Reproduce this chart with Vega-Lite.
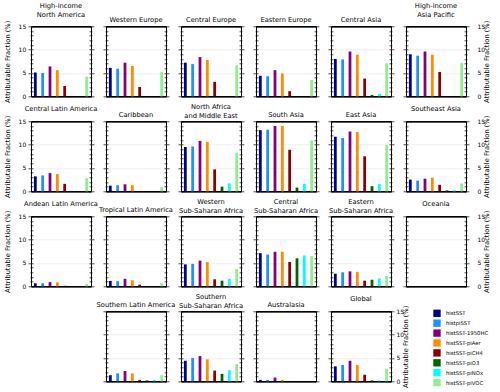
{
"$schema":"https://vega.github.io/schema/vega-lite/v6.json",
"autosize":{"type":"pad"},
"padding":{"left":3,"top":2.3,"right":0,"bottom":0},
"data":{"values":[
{"r":"HINA","s":"histSST","v":5.1},{"r":"HINA","s":"histpiSST","v":5.0},{"r":"HINA","s":"histSST-1950HC","v":6.4},{"r":"HINA","s":"histSST-piAer","v":5.6},{"r":"HINA","s":"histSST-piCH4","v":2.2},{"r":"HINA","s":"histSST-piO3","v":0},{"r":"HINA","s":"histSST-piNOx","v":0},{"r":"HINA","s":"histSST-piVOC","v":4.2},
{"r":"WEU","s":"histSST","v":6.1},{"r":"WEU","s":"histpiSST","v":5.9},{"r":"WEU","s":"histSST-1950HC","v":7.2},{"r":"WEU","s":"histSST-piAer","v":6.5},{"r":"WEU","s":"histSST-piCH4","v":2.0},{"r":"WEU","s":"histSST-piO3","v":0},{"r":"WEU","s":"histSST-piNOx","v":0},{"r":"WEU","s":"histSST-piVOC","v":5.2},
{"r":"CEU","s":"histSST","v":7.2},{"r":"CEU","s":"histpiSST","v":6.9},{"r":"CEU","s":"histSST-1950HC","v":8.4},{"r":"CEU","s":"histSST-piAer","v":7.8},{"r":"CEU","s":"histSST-piCH4","v":3.1},{"r":"CEU","s":"histSST-piO3","v":0},{"r":"CEU","s":"histSST-piNOx","v":0},{"r":"CEU","s":"histSST-piVOC","v":6.6},
{"r":"EEU","s":"histSST","v":4.4},{"r":"EEU","s":"histpiSST","v":4.3},{"r":"EEU","s":"histSST-1950HC","v":5.6},{"r":"EEU","s":"histSST-piAer","v":4.9},{"r":"EEU","s":"histSST-piCH4","v":1.1},{"r":"EEU","s":"histSST-piO3","v":0},{"r":"EEU","s":"histSST-piNOx","v":0},{"r":"EEU","s":"histSST-piVOC","v":3.5},
{"r":"CAS","s":"histSST","v":8.0},{"r":"CAS","s":"histpiSST","v":7.9},{"r":"CAS","s":"histSST-1950HC","v":9.6},{"r":"CAS","s":"histSST-piAer","v":8.9},{"r":"CAS","s":"histSST-piCH4","v":3.8},{"r":"CAS","s":"histSST-piO3","v":0.3},{"r":"CAS","s":"histSST-piNOx","v":0.5},{"r":"CAS","s":"histSST-piVOC","v":7.1},
{"r":"HIAP","s":"histSST","v":9.0},{"r":"HIAP","s":"histpiSST","v":8.7},{"r":"HIAP","s":"histSST-1950HC","v":9.6},{"r":"HIAP","s":"histSST-piAer","v":8.9},{"r":"HIAP","s":"histSST-piCH4","v":5.2},{"r":"HIAP","s":"histSST-piO3","v":0},{"r":"HIAP","s":"histSST-piNOx","v":0},{"r":"HIAP","s":"histSST-piVOC","v":7.1},
{"r":"CLA","s":"histSST","v":3.2},{"r":"CLA","s":"histpiSST","v":3.4},{"r":"CLA","s":"histSST-1950HC","v":3.9},{"r":"CLA","s":"histSST-piAer","v":3.7},{"r":"CLA","s":"histSST-piCH4","v":1.6},{"r":"CLA","s":"histSST-piO3","v":0},{"r":"CLA","s":"histSST-piNOx","v":0},{"r":"CLA","s":"histSST-piVOC","v":2.8},
{"r":"CAR","s":"histSST","v":1.2},{"r":"CAR","s":"histpiSST","v":1.3},{"r":"CAR","s":"histSST-1950HC","v":1.5},{"r":"CAR","s":"histSST-piAer","v":1.3},{"r":"CAR","s":"histSST-piCH4","v":0},{"r":"CAR","s":"histSST-piO3","v":0},{"r":"CAR","s":"histSST-piNOx","v":0},{"r":"CAR","s":"histSST-piVOC","v":0.9},
{"r":"NAME","s":"histSST","v":9.5},{"r":"NAME","s":"histpiSST","v":9.6},{"r":"NAME","s":"histSST-1950HC","v":10.8},{"r":"NAME","s":"histSST-piAer","v":10.6},{"r":"NAME","s":"histSST-piCH4","v":4.7},{"r":"NAME","s":"histSST-piO3","v":1.0},{"r":"NAME","s":"histSST-piNOx","v":1.7},{"r":"NAME","s":"histSST-piVOC","v":8.3},
{"r":"SAS","s":"histSST","v":13.1},{"r":"SAS","s":"histpiSST","v":13.2},{"r":"SAS","s":"histSST-1950HC","v":14.0},{"r":"SAS","s":"histSST-piAer","v":14.0},{"r":"SAS","s":"histSST-piCH4","v":8.9},{"r":"SAS","s":"histSST-piO3","v":0.8},{"r":"SAS","s":"histSST-piNOx","v":1.6},{"r":"SAS","s":"histSST-piVOC","v":10.9},
{"r":"EAS","s":"histSST","v":11.7},{"r":"EAS","s":"histpiSST","v":11.4},{"r":"EAS","s":"histSST-1950HC","v":12.8},{"r":"EAS","s":"histSST-piAer","v":12.7},{"r":"EAS","s":"histSST-piCH4","v":7.5},{"r":"EAS","s":"histSST-piO3","v":1.1},{"r":"EAS","s":"histSST-piNOx","v":1.6},{"r":"EAS","s":"histSST-piVOC","v":9.9},
{"r":"SEA","s":"histSST","v":2.5},{"r":"SEA","s":"histpiSST","v":2.3},{"r":"SEA","s":"histSST-1950HC","v":2.7},{"r":"SEA","s":"histSST-piAer","v":2.9},{"r":"SEA","s":"histSST-piCH4","v":1.4},{"r":"SEA","s":"histSST-piO3","v":0.2},{"r":"SEA","s":"histSST-piNOx","v":0.2},{"r":"SEA","s":"histSST-piVOC","v":1.7},
{"r":"ALA","s":"histSST","v":0.65},{"r":"ALA","s":"histpiSST","v":0.65},{"r":"ALA","s":"histSST-1950HC","v":0.9},{"r":"ALA","s":"histSST-piAer","v":0.85},{"r":"ALA","s":"histSST-piCH4","v":0.1},{"r":"ALA","s":"histSST-piO3","v":0},{"r":"ALA","s":"histSST-piNOx","v":0},{"r":"ALA","s":"histSST-piVOC","v":0.45},
{"r":"TLA","s":"histSST","v":1.15},{"r":"TLA","s":"histpiSST","v":1.1},{"r":"TLA","s":"histSST-1950HC","v":1.6},{"r":"TLA","s":"histSST-piAer","v":1.3},{"r":"TLA","s":"histSST-piCH4","v":0.35},{"r":"TLA","s":"histSST-piO3","v":0},{"r":"TLA","s":"histSST-piNOx","v":0},{"r":"TLA","s":"histSST-piVOC","v":0.7},
{"r":"WSSA","s":"histSST","v":4.7},{"r":"WSSA","s":"histpiSST","v":4.8},{"r":"WSSA","s":"histSST-1950HC","v":5.5},{"r":"WSSA","s":"histSST-piAer","v":5.2},{"r":"WSSA","s":"histSST-piCH4","v":1.5},{"r":"WSSA","s":"histSST-piO3","v":1.2},{"r":"WSSA","s":"histSST-piNOx","v":1.6},{"r":"WSSA","s":"histSST-piVOC","v":3.7},
{"r":"CSSA","s":"histSST","v":7.1},{"r":"CSSA","s":"histpiSST","v":6.8},{"r":"CSSA","s":"histSST-1950HC","v":7.4},{"r":"CSSA","s":"histSST-piAer","v":7.4},{"r":"CSSA","s":"histSST-piCH4","v":5.2},{"r":"CSSA","s":"histSST-piO3","v":6.0},{"r":"CSSA","s":"histSST-piNOx","v":6.6},{"r":"CSSA","s":"histSST-piVOC","v":6.5},
{"r":"ESSA","s":"histSST","v":2.7},{"r":"ESSA","s":"histpiSST","v":3.0},{"r":"ESSA","s":"histSST-1950HC","v":3.2},{"r":"ESSA","s":"histSST-piAer","v":3.1},{"r":"ESSA","s":"histSST-piCH4","v":1.2},{"r":"ESSA","s":"histSST-piO3","v":1.4},{"r":"ESSA","s":"histSST-piNOx","v":1.65},{"r":"ESSA","s":"histSST-piVOC","v":2.2},
{"r":"OCE","s":"histSST","v":0},{"r":"OCE","s":"histpiSST","v":0},{"r":"OCE","s":"histSST-1950HC","v":0},{"r":"OCE","s":"histSST-piAer","v":0},{"r":"OCE","s":"histSST-piCH4","v":0},{"r":"OCE","s":"histSST-piO3","v":0},{"r":"OCE","s":"histSST-piNOx","v":0},{"r":"OCE","s":"histSST-piVOC","v":0},
{"r":"SLA","s":"histSST","v":1.3},{"r":"SLA","s":"histpiSST","v":1.7},{"r":"SLA","s":"histSST-1950HC","v":2.2},{"r":"SLA","s":"histSST-piAer","v":1.7},{"r":"SLA","s":"histSST-piCH4","v":0.3},{"r":"SLA","s":"histSST-piO3","v":0.2},{"r":"SLA","s":"histSST-piNOx","v":0.3},{"r":"SLA","s":"histSST-piVOC","v":1.3},
{"r":"SSSA","s":"histSST","v":4.4},{"r":"SSSA","s":"histpiSST","v":5.0},{"r":"SSSA","s":"histSST-1950HC","v":5.4},{"r":"SSSA","s":"histSST-piAer","v":4.7},{"r":"SSSA","s":"histSST-piCH4","v":2.3},{"r":"SSSA","s":"histSST-piO3","v":1.6},{"r":"SSSA","s":"histSST-piNOx","v":2.4},{"r":"SSSA","s":"histSST-piVOC","v":3.7},
{"r":"AUS","s":"histSST","v":0.3},{"r":"AUS","s":"histpiSST","v":0.3},{"r":"AUS","s":"histSST-1950HC","v":0.8},{"r":"AUS","s":"histSST-piAer","v":0.3},{"r":"AUS","s":"histSST-piCH4","v":0},{"r":"AUS","s":"histSST-piO3","v":0},{"r":"AUS","s":"histSST-piNOx","v":0},{"r":"AUS","s":"histSST-piVOC","v":0},
{"r":"GLB","s":"histSST","v":3.2},{"r":"GLB","s":"histpiSST","v":3.5},{"r":"GLB","s":"histSST-1950HC","v":4.4},{"r":"GLB","s":"histSST-piAer","v":3.5},{"r":"GLB","s":"histSST-piCH4","v":1.4},{"r":"GLB","s":"histSST-piO3","v":0.2},{"r":"GLB","s":"histSST-piNOx","v":0.2},{"r":"GLB","s":"histSST-piVOC","v":2.7}
]},
"columns":6,
"spacing":{"row":25,"column":15},
"bounds":"flush",
"resolve":{"scale":{"color":"independent"},"legend":{"color":"independent"}},
"concat":[
{"width":60,"height":70,"title":{"text":["High-income","North America"],"offset":1.5},"transform":[{"filter":"datum.r==='HINA'"}],"layer":[
{"mark":"bar","encoding":{"x":{"field":"s","type":"nominal","scale":{"domain":["histSST","histpiSST","histSST-1950HC","histSST-piAer","histSST-piCH4","histSST-piO3","histSST-piNOx","histSST-piVOC"],"paddingInner":0.62,"paddingOuter":0.4},"axis":{"orient":"bottom","title":null}},"y":{"field":"v","type":"quantitative","scale":{"domain":[0,15],"nice":false},"axis":{"orient":"left","values":[0,1,2,3,4,5,6,7,8,9,10,11,12,13,14,15],"offset":-2,"tickSize":{"condition":{"test":"datum.value%5===0","value":5},"value":3},"labelExpr":"datum.value%5===0?datum.label:''","labelOverlap":false,"labelPadding":2.3,"grid":true,"gridOpacity":{"condition":{"test":"datum.value===5||datum.value===10","value":1},"value":0},"title":"Attributable Fraction (%)","titlePadding":8}},"color":{"field":"s","type":"nominal","scale":{"domain":["histSST","histpiSST","histSST-1950HC","histSST-piAer","histSST-piCH4","histSST-piO3","histSST-piNOx","histSST-piVOC"],"range":["#00008B","#1E90FF","#800080","#FF8C00","#8B0000","#006400","#00FFFF","#90EE90"]},"legend":null}}},
{"mark":{"type":"bar","opacity":0},"encoding":{"x":{"field":"s","type":"nominal","scale":{"domain":["histSST","histpiSST","histSST-1950HC","histSST-piAer","histSST-piCH4","histSST-piO3","histSST-piNOx","histSST-piVOC"],"paddingInner":0.62,"paddingOuter":0.4},"axis":{"orient":"top","title":null}},"y":{"field":"v","type":"quantitative","scale":{"domain":[0,15],"nice":false},"axis":{"orient":"right","values":[0,1,2,3,4,5,6,7,8,9,10,11,12,13,14,15],"offset":-2,"tickSize":{"condition":{"test":"datum.value%5===0","value":5},"value":3},"labels":false,"grid":false,"title":null}}}}
],"resolve":{"axis":{"x":"independent","y":"independent"}}},
{"width":60,"height":70,"title":"Western Europe","transform":[{"filter":"datum.r==='WEU'"}],"layer":[
{"mark":"bar","encoding":{"x":{"field":"s","type":"nominal","scale":{"domain":["histSST","histpiSST","histSST-1950HC","histSST-piAer","histSST-piCH4","histSST-piO3","histSST-piNOx","histSST-piVOC"],"paddingInner":0.62,"paddingOuter":0.4},"axis":{"orient":"bottom","title":null}},"y":{"field":"v","type":"quantitative","scale":{"domain":[0,15],"nice":false},"axis":{"orient":"left","values":[0,1,2,3,4,5,6,7,8,9,10,11,12,13,14,15],"offset":-2,"tickSize":{"condition":{"test":"datum.value%5===0","value":5},"value":3},"labels":false,"grid":true,"gridOpacity":{"condition":{"test":"datum.value===5||datum.value===10","value":1},"value":0},"title":null}},"color":{"field":"s","type":"nominal","scale":{"domain":["histSST","histpiSST","histSST-1950HC","histSST-piAer","histSST-piCH4","histSST-piO3","histSST-piNOx","histSST-piVOC"],"range":["#00008B","#1E90FF","#800080","#FF8C00","#8B0000","#006400","#00FFFF","#90EE90"]},"legend":null}}},
{"mark":{"type":"bar","opacity":0},"encoding":{"x":{"field":"s","type":"nominal","scale":{"domain":["histSST","histpiSST","histSST-1950HC","histSST-piAer","histSST-piCH4","histSST-piO3","histSST-piNOx","histSST-piVOC"],"paddingInner":0.62,"paddingOuter":0.4},"axis":{"orient":"top","title":null}},"y":{"field":"v","type":"quantitative","scale":{"domain":[0,15],"nice":false},"axis":{"orient":"right","values":[0,1,2,3,4,5,6,7,8,9,10,11,12,13,14,15],"offset":-2,"tickSize":{"condition":{"test":"datum.value%5===0","value":5},"value":3},"labels":false,"grid":false,"title":null}}}}
],"resolve":{"axis":{"x":"independent","y":"independent"}}},
{"width":60,"height":70,"title":"Central Europe","transform":[{"filter":"datum.r==='CEU'"}],"layer":[
{"mark":"bar","encoding":{"x":{"field":"s","type":"nominal","scale":{"domain":["histSST","histpiSST","histSST-1950HC","histSST-piAer","histSST-piCH4","histSST-piO3","histSST-piNOx","histSST-piVOC"],"paddingInner":0.62,"paddingOuter":0.4},"axis":{"orient":"bottom","title":null}},"y":{"field":"v","type":"quantitative","scale":{"domain":[0,15],"nice":false},"axis":{"orient":"left","values":[0,1,2,3,4,5,6,7,8,9,10,11,12,13,14,15],"offset":-2,"tickSize":{"condition":{"test":"datum.value%5===0","value":5},"value":3},"labels":false,"grid":true,"gridOpacity":{"condition":{"test":"datum.value===5||datum.value===10","value":1},"value":0},"title":null}},"color":{"field":"s","type":"nominal","scale":{"domain":["histSST","histpiSST","histSST-1950HC","histSST-piAer","histSST-piCH4","histSST-piO3","histSST-piNOx","histSST-piVOC"],"range":["#00008B","#1E90FF","#800080","#FF8C00","#8B0000","#006400","#00FFFF","#90EE90"]},"legend":null}}},
{"mark":{"type":"bar","opacity":0},"encoding":{"x":{"field":"s","type":"nominal","scale":{"domain":["histSST","histpiSST","histSST-1950HC","histSST-piAer","histSST-piCH4","histSST-piO3","histSST-piNOx","histSST-piVOC"],"paddingInner":0.62,"paddingOuter":0.4},"axis":{"orient":"top","title":null}},"y":{"field":"v","type":"quantitative","scale":{"domain":[0,15],"nice":false},"axis":{"orient":"right","values":[0,1,2,3,4,5,6,7,8,9,10,11,12,13,14,15],"offset":-2,"tickSize":{"condition":{"test":"datum.value%5===0","value":5},"value":3},"labels":false,"grid":false,"title":null}}}}
],"resolve":{"axis":{"x":"independent","y":"independent"}}},
{"width":60,"height":70,"title":"Eastern Europe","transform":[{"filter":"datum.r==='EEU'"}],"layer":[
{"mark":"bar","encoding":{"x":{"field":"s","type":"nominal","scale":{"domain":["histSST","histpiSST","histSST-1950HC","histSST-piAer","histSST-piCH4","histSST-piO3","histSST-piNOx","histSST-piVOC"],"paddingInner":0.62,"paddingOuter":0.4},"axis":{"orient":"bottom","title":null}},"y":{"field":"v","type":"quantitative","scale":{"domain":[0,15],"nice":false},"axis":{"orient":"left","values":[0,1,2,3,4,5,6,7,8,9,10,11,12,13,14,15],"offset":-2,"tickSize":{"condition":{"test":"datum.value%5===0","value":5},"value":3},"labels":false,"grid":true,"gridOpacity":{"condition":{"test":"datum.value===5||datum.value===10","value":1},"value":0},"title":null}},"color":{"field":"s","type":"nominal","scale":{"domain":["histSST","histpiSST","histSST-1950HC","histSST-piAer","histSST-piCH4","histSST-piO3","histSST-piNOx","histSST-piVOC"],"range":["#00008B","#1E90FF","#800080","#FF8C00","#8B0000","#006400","#00FFFF","#90EE90"]},"legend":null}}},
{"mark":{"type":"bar","opacity":0},"encoding":{"x":{"field":"s","type":"nominal","scale":{"domain":["histSST","histpiSST","histSST-1950HC","histSST-piAer","histSST-piCH4","histSST-piO3","histSST-piNOx","histSST-piVOC"],"paddingInner":0.62,"paddingOuter":0.4},"axis":{"orient":"top","title":null}},"y":{"field":"v","type":"quantitative","scale":{"domain":[0,15],"nice":false},"axis":{"orient":"right","values":[0,1,2,3,4,5,6,7,8,9,10,11,12,13,14,15],"offset":-2,"tickSize":{"condition":{"test":"datum.value%5===0","value":5},"value":3},"labels":false,"grid":false,"title":null}}}}
],"resolve":{"axis":{"x":"independent","y":"independent"}}},
{"width":60,"height":70,"title":"Central Asia","transform":[{"filter":"datum.r==='CAS'"}],"layer":[
{"mark":"bar","encoding":{"x":{"field":"s","type":"nominal","scale":{"domain":["histSST","histpiSST","histSST-1950HC","histSST-piAer","histSST-piCH4","histSST-piO3","histSST-piNOx","histSST-piVOC"],"paddingInner":0.62,"paddingOuter":0.4},"axis":{"orient":"bottom","title":null}},"y":{"field":"v","type":"quantitative","scale":{"domain":[0,15],"nice":false},"axis":{"orient":"left","values":[0,1,2,3,4,5,6,7,8,9,10,11,12,13,14,15],"offset":-2,"tickSize":{"condition":{"test":"datum.value%5===0","value":5},"value":3},"labels":false,"grid":true,"gridOpacity":{"condition":{"test":"datum.value===5||datum.value===10","value":1},"value":0},"title":null}},"color":{"field":"s","type":"nominal","scale":{"domain":["histSST","histpiSST","histSST-1950HC","histSST-piAer","histSST-piCH4","histSST-piO3","histSST-piNOx","histSST-piVOC"],"range":["#00008B","#1E90FF","#800080","#FF8C00","#8B0000","#006400","#00FFFF","#90EE90"]},"legend":null}}},
{"mark":{"type":"bar","opacity":0},"encoding":{"x":{"field":"s","type":"nominal","scale":{"domain":["histSST","histpiSST","histSST-1950HC","histSST-piAer","histSST-piCH4","histSST-piO3","histSST-piNOx","histSST-piVOC"],"paddingInner":0.62,"paddingOuter":0.4},"axis":{"orient":"top","title":null}},"y":{"field":"v","type":"quantitative","scale":{"domain":[0,15],"nice":false},"axis":{"orient":"right","values":[0,1,2,3,4,5,6,7,8,9,10,11,12,13,14,15],"offset":-2,"tickSize":{"condition":{"test":"datum.value%5===0","value":5},"value":3},"labels":false,"grid":false,"title":null}}}}
],"resolve":{"axis":{"x":"independent","y":"independent"}}},
{"width":60,"height":70,"title":{"text":["High-income","Asia Pacific"],"offset":1.5},"transform":[{"filter":"datum.r==='HIAP'"}],"layer":[
{"mark":"bar","encoding":{"x":{"field":"s","type":"nominal","scale":{"domain":["histSST","histpiSST","histSST-1950HC","histSST-piAer","histSST-piCH4","histSST-piO3","histSST-piNOx","histSST-piVOC"],"paddingInner":0.62,"paddingOuter":0.4},"axis":{"orient":"bottom","title":null}},"y":{"field":"v","type":"quantitative","scale":{"domain":[0,15],"nice":false},"axis":{"orient":"left","values":[0,1,2,3,4,5,6,7,8,9,10,11,12,13,14,15],"offset":-2,"tickSize":{"condition":{"test":"datum.value%5===0","value":5},"value":3},"labels":false,"grid":true,"gridOpacity":{"condition":{"test":"datum.value===5||datum.value===10","value":1},"value":0},"title":null}},"color":{"field":"s","type":"nominal","scale":{"domain":["histSST","histpiSST","histSST-1950HC","histSST-piAer","histSST-piCH4","histSST-piO3","histSST-piNOx","histSST-piVOC"],"range":["#00008B","#1E90FF","#800080","#FF8C00","#8B0000","#006400","#00FFFF","#90EE90"]},"legend":null}}},
{"mark":{"type":"bar","opacity":0},"encoding":{"x":{"field":"s","type":"nominal","scale":{"domain":["histSST","histpiSST","histSST-1950HC","histSST-piAer","histSST-piCH4","histSST-piO3","histSST-piNOx","histSST-piVOC"],"paddingInner":0.62,"paddingOuter":0.4},"axis":{"orient":"top","title":null}},"y":{"field":"v","type":"quantitative","scale":{"domain":[0,15],"nice":false},"axis":{"orient":"right","values":[0,1,2,3,4,5,6,7,8,9,10,11,12,13,14,15],"offset":-2,"tickSize":{"condition":{"test":"datum.value%5===0","value":5},"value":3},"labelExpr":"datum.value%5===0?datum.label:''","labelOverlap":false,"labelPadding":8,"grid":false,"title":"Attributable Fraction (%)","titleAngle":-90,"titlePadding":5}}}}
],"resolve":{"axis":{"x":"independent","y":"independent"}}},
{"width":60,"height":70,"title":"Central Latin America","transform":[{"filter":"datum.r==='CLA'"}],"layer":[
{"mark":"bar","encoding":{"x":{"field":"s","type":"nominal","scale":{"domain":["histSST","histpiSST","histSST-1950HC","histSST-piAer","histSST-piCH4","histSST-piO3","histSST-piNOx","histSST-piVOC"],"paddingInner":0.62,"paddingOuter":0.4},"axis":{"orient":"bottom","title":null}},"y":{"field":"v","type":"quantitative","scale":{"domain":[0,15],"nice":false},"axis":{"orient":"left","values":[0,1,2,3,4,5,6,7,8,9,10,11,12,13,14,15],"offset":-2,"tickSize":{"condition":{"test":"datum.value%5===0","value":5},"value":3},"labelExpr":"datum.value%5===0?datum.label:''","labelOverlap":false,"labelPadding":2.3,"grid":true,"gridOpacity":{"condition":{"test":"datum.value===5||datum.value===10","value":1},"value":0},"title":"Attributable Fraction (%)","titlePadding":8}},"color":{"field":"s","type":"nominal","scale":{"domain":["histSST","histpiSST","histSST-1950HC","histSST-piAer","histSST-piCH4","histSST-piO3","histSST-piNOx","histSST-piVOC"],"range":["#00008B","#1E90FF","#800080","#FF8C00","#8B0000","#006400","#00FFFF","#90EE90"]},"legend":null}}},
{"mark":{"type":"bar","opacity":0},"encoding":{"x":{"field":"s","type":"nominal","scale":{"domain":["histSST","histpiSST","histSST-1950HC","histSST-piAer","histSST-piCH4","histSST-piO3","histSST-piNOx","histSST-piVOC"],"paddingInner":0.62,"paddingOuter":0.4},"axis":{"orient":"top","title":null}},"y":{"field":"v","type":"quantitative","scale":{"domain":[0,15],"nice":false},"axis":{"orient":"right","values":[0,1,2,3,4,5,6,7,8,9,10,11,12,13,14,15],"offset":-2,"tickSize":{"condition":{"test":"datum.value%5===0","value":5},"value":3},"labels":false,"grid":false,"title":null}}}}
],"resolve":{"axis":{"x":"independent","y":"independent"}}},
{"width":60,"height":70,"title":"Caribbean","transform":[{"filter":"datum.r==='CAR'"}],"layer":[
{"mark":"bar","encoding":{"x":{"field":"s","type":"nominal","scale":{"domain":["histSST","histpiSST","histSST-1950HC","histSST-piAer","histSST-piCH4","histSST-piO3","histSST-piNOx","histSST-piVOC"],"paddingInner":0.62,"paddingOuter":0.4},"axis":{"orient":"bottom","title":null}},"y":{"field":"v","type":"quantitative","scale":{"domain":[0,15],"nice":false},"axis":{"orient":"left","values":[0,1,2,3,4,5,6,7,8,9,10,11,12,13,14,15],"offset":-2,"tickSize":{"condition":{"test":"datum.value%5===0","value":5},"value":3},"labels":false,"grid":true,"gridOpacity":{"condition":{"test":"datum.value===5||datum.value===10","value":1},"value":0},"title":null}},"color":{"field":"s","type":"nominal","scale":{"domain":["histSST","histpiSST","histSST-1950HC","histSST-piAer","histSST-piCH4","histSST-piO3","histSST-piNOx","histSST-piVOC"],"range":["#00008B","#1E90FF","#800080","#FF8C00","#8B0000","#006400","#00FFFF","#90EE90"]},"legend":null}}},
{"mark":{"type":"bar","opacity":0},"encoding":{"x":{"field":"s","type":"nominal","scale":{"domain":["histSST","histpiSST","histSST-1950HC","histSST-piAer","histSST-piCH4","histSST-piO3","histSST-piNOx","histSST-piVOC"],"paddingInner":0.62,"paddingOuter":0.4},"axis":{"orient":"top","title":null}},"y":{"field":"v","type":"quantitative","scale":{"domain":[0,15],"nice":false},"axis":{"orient":"right","values":[0,1,2,3,4,5,6,7,8,9,10,11,12,13,14,15],"offset":-2,"tickSize":{"condition":{"test":"datum.value%5===0","value":5},"value":3},"labels":false,"grid":false,"title":null}}}}
],"resolve":{"axis":{"x":"independent","y":"independent"}}},
{"width":60,"height":70,"title":{"text":["North Africa","and Middle East"],"offset":1.5},"transform":[{"filter":"datum.r==='NAME'"}],"layer":[
{"mark":"bar","encoding":{"x":{"field":"s","type":"nominal","scale":{"domain":["histSST","histpiSST","histSST-1950HC","histSST-piAer","histSST-piCH4","histSST-piO3","histSST-piNOx","histSST-piVOC"],"paddingInner":0.62,"paddingOuter":0.4},"axis":{"orient":"bottom","title":null}},"y":{"field":"v","type":"quantitative","scale":{"domain":[0,15],"nice":false},"axis":{"orient":"left","values":[0,1,2,3,4,5,6,7,8,9,10,11,12,13,14,15],"offset":-2,"tickSize":{"condition":{"test":"datum.value%5===0","value":5},"value":3},"labels":false,"grid":true,"gridOpacity":{"condition":{"test":"datum.value===5||datum.value===10","value":1},"value":0},"title":null}},"color":{"field":"s","type":"nominal","scale":{"domain":["histSST","histpiSST","histSST-1950HC","histSST-piAer","histSST-piCH4","histSST-piO3","histSST-piNOx","histSST-piVOC"],"range":["#00008B","#1E90FF","#800080","#FF8C00","#8B0000","#006400","#00FFFF","#90EE90"]},"legend":null}}},
{"mark":{"type":"bar","opacity":0},"encoding":{"x":{"field":"s","type":"nominal","scale":{"domain":["histSST","histpiSST","histSST-1950HC","histSST-piAer","histSST-piCH4","histSST-piO3","histSST-piNOx","histSST-piVOC"],"paddingInner":0.62,"paddingOuter":0.4},"axis":{"orient":"top","title":null}},"y":{"field":"v","type":"quantitative","scale":{"domain":[0,15],"nice":false},"axis":{"orient":"right","values":[0,1,2,3,4,5,6,7,8,9,10,11,12,13,14,15],"offset":-2,"tickSize":{"condition":{"test":"datum.value%5===0","value":5},"value":3},"labels":false,"grid":false,"title":null}}}}
],"resolve":{"axis":{"x":"independent","y":"independent"}}},
{"width":60,"height":70,"title":"South Asia","transform":[{"filter":"datum.r==='SAS'"}],"layer":[
{"mark":"bar","encoding":{"x":{"field":"s","type":"nominal","scale":{"domain":["histSST","histpiSST","histSST-1950HC","histSST-piAer","histSST-piCH4","histSST-piO3","histSST-piNOx","histSST-piVOC"],"paddingInner":0.62,"paddingOuter":0.4},"axis":{"orient":"bottom","title":null}},"y":{"field":"v","type":"quantitative","scale":{"domain":[0,15],"nice":false},"axis":{"orient":"left","values":[0,1,2,3,4,5,6,7,8,9,10,11,12,13,14,15],"offset":-2,"tickSize":{"condition":{"test":"datum.value%5===0","value":5},"value":3},"labels":false,"grid":true,"gridOpacity":{"condition":{"test":"datum.value===5||datum.value===10","value":1},"value":0},"title":null}},"color":{"field":"s","type":"nominal","scale":{"domain":["histSST","histpiSST","histSST-1950HC","histSST-piAer","histSST-piCH4","histSST-piO3","histSST-piNOx","histSST-piVOC"],"range":["#00008B","#1E90FF","#800080","#FF8C00","#8B0000","#006400","#00FFFF","#90EE90"]},"legend":null}}},
{"mark":{"type":"bar","opacity":0},"encoding":{"x":{"field":"s","type":"nominal","scale":{"domain":["histSST","histpiSST","histSST-1950HC","histSST-piAer","histSST-piCH4","histSST-piO3","histSST-piNOx","histSST-piVOC"],"paddingInner":0.62,"paddingOuter":0.4},"axis":{"orient":"top","title":null}},"y":{"field":"v","type":"quantitative","scale":{"domain":[0,15],"nice":false},"axis":{"orient":"right","values":[0,1,2,3,4,5,6,7,8,9,10,11,12,13,14,15],"offset":-2,"tickSize":{"condition":{"test":"datum.value%5===0","value":5},"value":3},"labels":false,"grid":false,"title":null}}}}
],"resolve":{"axis":{"x":"independent","y":"independent"}}},
{"width":60,"height":70,"title":"East Asia","transform":[{"filter":"datum.r==='EAS'"}],"layer":[
{"mark":"bar","encoding":{"x":{"field":"s","type":"nominal","scale":{"domain":["histSST","histpiSST","histSST-1950HC","histSST-piAer","histSST-piCH4","histSST-piO3","histSST-piNOx","histSST-piVOC"],"paddingInner":0.62,"paddingOuter":0.4},"axis":{"orient":"bottom","title":null}},"y":{"field":"v","type":"quantitative","scale":{"domain":[0,15],"nice":false},"axis":{"orient":"left","values":[0,1,2,3,4,5,6,7,8,9,10,11,12,13,14,15],"offset":-2,"tickSize":{"condition":{"test":"datum.value%5===0","value":5},"value":3},"labels":false,"grid":true,"gridOpacity":{"condition":{"test":"datum.value===5||datum.value===10","value":1},"value":0},"title":null}},"color":{"field":"s","type":"nominal","scale":{"domain":["histSST","histpiSST","histSST-1950HC","histSST-piAer","histSST-piCH4","histSST-piO3","histSST-piNOx","histSST-piVOC"],"range":["#00008B","#1E90FF","#800080","#FF8C00","#8B0000","#006400","#00FFFF","#90EE90"]},"legend":null}}},
{"mark":{"type":"bar","opacity":0},"encoding":{"x":{"field":"s","type":"nominal","scale":{"domain":["histSST","histpiSST","histSST-1950HC","histSST-piAer","histSST-piCH4","histSST-piO3","histSST-piNOx","histSST-piVOC"],"paddingInner":0.62,"paddingOuter":0.4},"axis":{"orient":"top","title":null}},"y":{"field":"v","type":"quantitative","scale":{"domain":[0,15],"nice":false},"axis":{"orient":"right","values":[0,1,2,3,4,5,6,7,8,9,10,11,12,13,14,15],"offset":-2,"tickSize":{"condition":{"test":"datum.value%5===0","value":5},"value":3},"labels":false,"grid":false,"title":null}}}}
],"resolve":{"axis":{"x":"independent","y":"independent"}}},
{"width":60,"height":70,"title":"Southeast Asia","transform":[{"filter":"datum.r==='SEA'"}],"layer":[
{"mark":"bar","encoding":{"x":{"field":"s","type":"nominal","scale":{"domain":["histSST","histpiSST","histSST-1950HC","histSST-piAer","histSST-piCH4","histSST-piO3","histSST-piNOx","histSST-piVOC"],"paddingInner":0.62,"paddingOuter":0.4},"axis":{"orient":"bottom","title":null}},"y":{"field":"v","type":"quantitative","scale":{"domain":[0,15],"nice":false},"axis":{"orient":"left","values":[0,1,2,3,4,5,6,7,8,9,10,11,12,13,14,15],"offset":-2,"tickSize":{"condition":{"test":"datum.value%5===0","value":5},"value":3},"labels":false,"grid":true,"gridOpacity":{"condition":{"test":"datum.value===5||datum.value===10","value":1},"value":0},"title":null}},"color":{"field":"s","type":"nominal","scale":{"domain":["histSST","histpiSST","histSST-1950HC","histSST-piAer","histSST-piCH4","histSST-piO3","histSST-piNOx","histSST-piVOC"],"range":["#00008B","#1E90FF","#800080","#FF8C00","#8B0000","#006400","#00FFFF","#90EE90"]},"legend":null}}},
{"mark":{"type":"bar","opacity":0},"encoding":{"x":{"field":"s","type":"nominal","scale":{"domain":["histSST","histpiSST","histSST-1950HC","histSST-piAer","histSST-piCH4","histSST-piO3","histSST-piNOx","histSST-piVOC"],"paddingInner":0.62,"paddingOuter":0.4},"axis":{"orient":"top","title":null}},"y":{"field":"v","type":"quantitative","scale":{"domain":[0,15],"nice":false},"axis":{"orient":"right","values":[0,1,2,3,4,5,6,7,8,9,10,11,12,13,14,15],"offset":-2,"tickSize":{"condition":{"test":"datum.value%5===0","value":5},"value":3},"labelExpr":"datum.value%5===0?datum.label:''","labelOverlap":false,"labelPadding":8,"grid":false,"title":"Attributable Fraction (%)","titleAngle":-90,"titlePadding":5}}}}
],"resolve":{"axis":{"x":"independent","y":"independent"}}},
{"width":60,"height":70,"title":"Andean Latin America","transform":[{"filter":"datum.r==='ALA'"}],"layer":[
{"mark":"bar","encoding":{"x":{"field":"s","type":"nominal","scale":{"domain":["histSST","histpiSST","histSST-1950HC","histSST-piAer","histSST-piCH4","histSST-piO3","histSST-piNOx","histSST-piVOC"],"paddingInner":0.62,"paddingOuter":0.4},"axis":{"orient":"bottom","title":null}},"y":{"field":"v","type":"quantitative","scale":{"domain":[0,15],"nice":false},"axis":{"orient":"left","values":[0,1,2,3,4,5,6,7,8,9,10,11,12,13,14,15],"offset":-2,"tickSize":{"condition":{"test":"datum.value%5===0","value":5},"value":3},"labelExpr":"datum.value%5===0?datum.label:''","labelOverlap":false,"labelPadding":2.3,"grid":true,"gridOpacity":{"condition":{"test":"datum.value===5||datum.value===10","value":1},"value":0},"title":"Attributable Fraction (%)","titlePadding":8}},"color":{"field":"s","type":"nominal","scale":{"domain":["histSST","histpiSST","histSST-1950HC","histSST-piAer","histSST-piCH4","histSST-piO3","histSST-piNOx","histSST-piVOC"],"range":["#00008B","#1E90FF","#800080","#FF8C00","#8B0000","#006400","#00FFFF","#90EE90"]},"legend":null}}},
{"mark":{"type":"bar","opacity":0},"encoding":{"x":{"field":"s","type":"nominal","scale":{"domain":["histSST","histpiSST","histSST-1950HC","histSST-piAer","histSST-piCH4","histSST-piO3","histSST-piNOx","histSST-piVOC"],"paddingInner":0.62,"paddingOuter":0.4},"axis":{"orient":"top","title":null}},"y":{"field":"v","type":"quantitative","scale":{"domain":[0,15],"nice":false},"axis":{"orient":"right","values":[0,1,2,3,4,5,6,7,8,9,10,11,12,13,14,15],"offset":-2,"tickSize":{"condition":{"test":"datum.value%5===0","value":5},"value":3},"labels":false,"grid":false,"title":null}}}}
],"resolve":{"axis":{"x":"independent","y":"independent"}}},
{"width":60,"height":70,"title":"Tropical Latin America","transform":[{"filter":"datum.r==='TLA'"}],"layer":[
{"mark":"bar","encoding":{"x":{"field":"s","type":"nominal","scale":{"domain":["histSST","histpiSST","histSST-1950HC","histSST-piAer","histSST-piCH4","histSST-piO3","histSST-piNOx","histSST-piVOC"],"paddingInner":0.62,"paddingOuter":0.4},"axis":{"orient":"bottom","title":null}},"y":{"field":"v","type":"quantitative","scale":{"domain":[0,15],"nice":false},"axis":{"orient":"left","values":[0,1,2,3,4,5,6,7,8,9,10,11,12,13,14,15],"offset":-2,"tickSize":{"condition":{"test":"datum.value%5===0","value":5},"value":3},"labels":false,"grid":true,"gridOpacity":{"condition":{"test":"datum.value===5||datum.value===10","value":1},"value":0},"title":null}},"color":{"field":"s","type":"nominal","scale":{"domain":["histSST","histpiSST","histSST-1950HC","histSST-piAer","histSST-piCH4","histSST-piO3","histSST-piNOx","histSST-piVOC"],"range":["#00008B","#1E90FF","#800080","#FF8C00","#8B0000","#006400","#00FFFF","#90EE90"]},"legend":null}}},
{"mark":{"type":"bar","opacity":0},"encoding":{"x":{"field":"s","type":"nominal","scale":{"domain":["histSST","histpiSST","histSST-1950HC","histSST-piAer","histSST-piCH4","histSST-piO3","histSST-piNOx","histSST-piVOC"],"paddingInner":0.62,"paddingOuter":0.4},"axis":{"orient":"top","title":null}},"y":{"field":"v","type":"quantitative","scale":{"domain":[0,15],"nice":false},"axis":{"orient":"right","values":[0,1,2,3,4,5,6,7,8,9,10,11,12,13,14,15],"offset":-2,"tickSize":{"condition":{"test":"datum.value%5===0","value":5},"value":3},"labels":false,"grid":false,"title":null}}}}
],"resolve":{"axis":{"x":"independent","y":"independent"}}},
{"width":60,"height":70,"title":{"text":["Western","Sub-Saharan Africa"],"offset":1.5},"transform":[{"filter":"datum.r==='WSSA'"}],"layer":[
{"mark":"bar","encoding":{"x":{"field":"s","type":"nominal","scale":{"domain":["histSST","histpiSST","histSST-1950HC","histSST-piAer","histSST-piCH4","histSST-piO3","histSST-piNOx","histSST-piVOC"],"paddingInner":0.62,"paddingOuter":0.4},"axis":{"orient":"bottom","title":null}},"y":{"field":"v","type":"quantitative","scale":{"domain":[0,15],"nice":false},"axis":{"orient":"left","values":[0,1,2,3,4,5,6,7,8,9,10,11,12,13,14,15],"offset":-2,"tickSize":{"condition":{"test":"datum.value%5===0","value":5},"value":3},"labels":false,"grid":true,"gridOpacity":{"condition":{"test":"datum.value===5||datum.value===10","value":1},"value":0},"title":null}},"color":{"field":"s","type":"nominal","scale":{"domain":["histSST","histpiSST","histSST-1950HC","histSST-piAer","histSST-piCH4","histSST-piO3","histSST-piNOx","histSST-piVOC"],"range":["#00008B","#1E90FF","#800080","#FF8C00","#8B0000","#006400","#00FFFF","#90EE90"]},"legend":null}}},
{"mark":{"type":"bar","opacity":0},"encoding":{"x":{"field":"s","type":"nominal","scale":{"domain":["histSST","histpiSST","histSST-1950HC","histSST-piAer","histSST-piCH4","histSST-piO3","histSST-piNOx","histSST-piVOC"],"paddingInner":0.62,"paddingOuter":0.4},"axis":{"orient":"top","title":null}},"y":{"field":"v","type":"quantitative","scale":{"domain":[0,15],"nice":false},"axis":{"orient":"right","values":[0,1,2,3,4,5,6,7,8,9,10,11,12,13,14,15],"offset":-2,"tickSize":{"condition":{"test":"datum.value%5===0","value":5},"value":3},"labels":false,"grid":false,"title":null}}}}
],"resolve":{"axis":{"x":"independent","y":"independent"}}},
{"width":60,"height":70,"title":{"text":["Central","Sub-Saharan Africa"],"offset":1.5},"transform":[{"filter":"datum.r==='CSSA'"}],"layer":[
{"mark":"bar","encoding":{"x":{"field":"s","type":"nominal","scale":{"domain":["histSST","histpiSST","histSST-1950HC","histSST-piAer","histSST-piCH4","histSST-piO3","histSST-piNOx","histSST-piVOC"],"paddingInner":0.62,"paddingOuter":0.4},"axis":{"orient":"bottom","title":null}},"y":{"field":"v","type":"quantitative","scale":{"domain":[0,15],"nice":false},"axis":{"orient":"left","values":[0,1,2,3,4,5,6,7,8,9,10,11,12,13,14,15],"offset":-2,"tickSize":{"condition":{"test":"datum.value%5===0","value":5},"value":3},"labels":false,"grid":true,"gridOpacity":{"condition":{"test":"datum.value===5||datum.value===10","value":1},"value":0},"title":null}},"color":{"field":"s","type":"nominal","scale":{"domain":["histSST","histpiSST","histSST-1950HC","histSST-piAer","histSST-piCH4","histSST-piO3","histSST-piNOx","histSST-piVOC"],"range":["#00008B","#1E90FF","#800080","#FF8C00","#8B0000","#006400","#00FFFF","#90EE90"]},"legend":null}}},
{"mark":{"type":"bar","opacity":0},"encoding":{"x":{"field":"s","type":"nominal","scale":{"domain":["histSST","histpiSST","histSST-1950HC","histSST-piAer","histSST-piCH4","histSST-piO3","histSST-piNOx","histSST-piVOC"],"paddingInner":0.62,"paddingOuter":0.4},"axis":{"orient":"top","title":null}},"y":{"field":"v","type":"quantitative","scale":{"domain":[0,15],"nice":false},"axis":{"orient":"right","values":[0,1,2,3,4,5,6,7,8,9,10,11,12,13,14,15],"offset":-2,"tickSize":{"condition":{"test":"datum.value%5===0","value":5},"value":3},"labels":false,"grid":false,"title":null}}}}
],"resolve":{"axis":{"x":"independent","y":"independent"}}},
{"width":60,"height":70,"title":{"text":["Eastern","Sub-Saharan Africa"],"offset":1.5},"transform":[{"filter":"datum.r==='ESSA'"}],"layer":[
{"mark":"bar","encoding":{"x":{"field":"s","type":"nominal","scale":{"domain":["histSST","histpiSST","histSST-1950HC","histSST-piAer","histSST-piCH4","histSST-piO3","histSST-piNOx","histSST-piVOC"],"paddingInner":0.62,"paddingOuter":0.4},"axis":{"orient":"bottom","title":null}},"y":{"field":"v","type":"quantitative","scale":{"domain":[0,15],"nice":false},"axis":{"orient":"left","values":[0,1,2,3,4,5,6,7,8,9,10,11,12,13,14,15],"offset":-2,"tickSize":{"condition":{"test":"datum.value%5===0","value":5},"value":3},"labels":false,"grid":true,"gridOpacity":{"condition":{"test":"datum.value===5||datum.value===10","value":1},"value":0},"title":null}},"color":{"field":"s","type":"nominal","scale":{"domain":["histSST","histpiSST","histSST-1950HC","histSST-piAer","histSST-piCH4","histSST-piO3","histSST-piNOx","histSST-piVOC"],"range":["#00008B","#1E90FF","#800080","#FF8C00","#8B0000","#006400","#00FFFF","#90EE90"]},"legend":null}}},
{"mark":{"type":"bar","opacity":0},"encoding":{"x":{"field":"s","type":"nominal","scale":{"domain":["histSST","histpiSST","histSST-1950HC","histSST-piAer","histSST-piCH4","histSST-piO3","histSST-piNOx","histSST-piVOC"],"paddingInner":0.62,"paddingOuter":0.4},"axis":{"orient":"top","title":null}},"y":{"field":"v","type":"quantitative","scale":{"domain":[0,15],"nice":false},"axis":{"orient":"right","values":[0,1,2,3,4,5,6,7,8,9,10,11,12,13,14,15],"offset":-2,"tickSize":{"condition":{"test":"datum.value%5===0","value":5},"value":3},"labels":false,"grid":false,"title":null}}}}
],"resolve":{"axis":{"x":"independent","y":"independent"}}},
{"width":60,"height":70,"title":"Oceania","transform":[{"filter":"datum.r==='OCE'"}],"layer":[
{"mark":"bar","encoding":{"x":{"field":"s","type":"nominal","scale":{"domain":["histSST","histpiSST","histSST-1950HC","histSST-piAer","histSST-piCH4","histSST-piO3","histSST-piNOx","histSST-piVOC"],"paddingInner":0.62,"paddingOuter":0.4},"axis":{"orient":"bottom","title":null}},"y":{"field":"v","type":"quantitative","scale":{"domain":[0,15],"nice":false},"axis":{"orient":"left","values":[0,1,2,3,4,5,6,7,8,9,10,11,12,13,14,15],"offset":-2,"tickSize":{"condition":{"test":"datum.value%5===0","value":5},"value":3},"labels":false,"grid":true,"gridOpacity":{"condition":{"test":"datum.value===5||datum.value===10","value":1},"value":0},"title":null}},"color":{"field":"s","type":"nominal","scale":{"domain":["histSST","histpiSST","histSST-1950HC","histSST-piAer","histSST-piCH4","histSST-piO3","histSST-piNOx","histSST-piVOC"],"range":["#00008B","#1E90FF","#800080","#FF8C00","#8B0000","#006400","#00FFFF","#90EE90"]},"legend":null}}},
{"mark":{"type":"bar","opacity":0},"encoding":{"x":{"field":"s","type":"nominal","scale":{"domain":["histSST","histpiSST","histSST-1950HC","histSST-piAer","histSST-piCH4","histSST-piO3","histSST-piNOx","histSST-piVOC"],"paddingInner":0.62,"paddingOuter":0.4},"axis":{"orient":"top","title":null}},"y":{"field":"v","type":"quantitative","scale":{"domain":[0,15],"nice":false},"axis":{"orient":"right","values":[0,1,2,3,4,5,6,7,8,9,10,11,12,13,14,15],"offset":-2,"tickSize":{"condition":{"test":"datum.value%5===0","value":5},"value":3},"labelExpr":"datum.value%5===0?datum.label:''","labelOverlap":false,"labelPadding":8,"grid":false,"title":"Attributable Fraction (%)","titleAngle":-90,"titlePadding":5}}}}
],"resolve":{"axis":{"x":"independent","y":"independent"}}},
{"width":60,"height":70,"view":{"stroke":null},"transform":[{"filter":"false"}],"mark":"point","encoding":{}},
{"width":60,"height":70,"title":"Southern Latin America","transform":[{"filter":"datum.r==='SLA'"}],"layer":[
{"mark":"bar","encoding":{"x":{"field":"s","type":"nominal","scale":{"domain":["histSST","histpiSST","histSST-1950HC","histSST-piAer","histSST-piCH4","histSST-piO3","histSST-piNOx","histSST-piVOC"],"paddingInner":0.62,"paddingOuter":0.4},"axis":{"orient":"bottom","title":null}},"y":{"field":"v","type":"quantitative","scale":{"domain":[0,15],"nice":false},"axis":{"orient":"left","values":[0,1,2,3,4,5,6,7,8,9,10,11,12,13,14,15],"offset":-2,"tickSize":{"condition":{"test":"datum.value%5===0","value":5},"value":3},"labels":false,"grid":true,"gridOpacity":{"condition":{"test":"datum.value===5||datum.value===10","value":1},"value":0},"title":null}},"color":{"field":"s","type":"nominal","scale":{"domain":["histSST","histpiSST","histSST-1950HC","histSST-piAer","histSST-piCH4","histSST-piO3","histSST-piNOx","histSST-piVOC"],"range":["#00008B","#1E90FF","#800080","#FF8C00","#8B0000","#006400","#00FFFF","#90EE90"]},"legend":null}}},
{"mark":{"type":"bar","opacity":0},"encoding":{"x":{"field":"s","type":"nominal","scale":{"domain":["histSST","histpiSST","histSST-1950HC","histSST-piAer","histSST-piCH4","histSST-piO3","histSST-piNOx","histSST-piVOC"],"paddingInner":0.62,"paddingOuter":0.4},"axis":{"orient":"top","title":null}},"y":{"field":"v","type":"quantitative","scale":{"domain":[0,15],"nice":false},"axis":{"orient":"right","values":[0,1,2,3,4,5,6,7,8,9,10,11,12,13,14,15],"offset":-2,"tickSize":{"condition":{"test":"datum.value%5===0","value":5},"value":3},"labels":false,"grid":false,"title":null}}}}
],"resolve":{"axis":{"x":"independent","y":"independent"}}},
{"width":60,"height":70,"title":{"text":["Southern","Sub-Saharan Africa"],"offset":1.5},"transform":[{"filter":"datum.r==='SSSA'"}],"layer":[
{"mark":"bar","encoding":{"x":{"field":"s","type":"nominal","scale":{"domain":["histSST","histpiSST","histSST-1950HC","histSST-piAer","histSST-piCH4","histSST-piO3","histSST-piNOx","histSST-piVOC"],"paddingInner":0.62,"paddingOuter":0.4},"axis":{"orient":"bottom","title":null}},"y":{"field":"v","type":"quantitative","scale":{"domain":[0,15],"nice":false},"axis":{"orient":"left","values":[0,1,2,3,4,5,6,7,8,9,10,11,12,13,14,15],"offset":-2,"tickSize":{"condition":{"test":"datum.value%5===0","value":5},"value":3},"labels":false,"grid":true,"gridOpacity":{"condition":{"test":"datum.value===5||datum.value===10","value":1},"value":0},"title":null}},"color":{"field":"s","type":"nominal","scale":{"domain":["histSST","histpiSST","histSST-1950HC","histSST-piAer","histSST-piCH4","histSST-piO3","histSST-piNOx","histSST-piVOC"],"range":["#00008B","#1E90FF","#800080","#FF8C00","#8B0000","#006400","#00FFFF","#90EE90"]},"legend":null}}},
{"mark":{"type":"bar","opacity":0},"encoding":{"x":{"field":"s","type":"nominal","scale":{"domain":["histSST","histpiSST","histSST-1950HC","histSST-piAer","histSST-piCH4","histSST-piO3","histSST-piNOx","histSST-piVOC"],"paddingInner":0.62,"paddingOuter":0.4},"axis":{"orient":"top","title":null}},"y":{"field":"v","type":"quantitative","scale":{"domain":[0,15],"nice":false},"axis":{"orient":"right","values":[0,1,2,3,4,5,6,7,8,9,10,11,12,13,14,15],"offset":-2,"tickSize":{"condition":{"test":"datum.value%5===0","value":5},"value":3},"labels":false,"grid":false,"title":null}}}}
],"resolve":{"axis":{"x":"independent","y":"independent"}}},
{"width":60,"height":70,"title":"Australasia","transform":[{"filter":"datum.r==='AUS'"}],"layer":[
{"mark":"bar","encoding":{"x":{"field":"s","type":"nominal","scale":{"domain":["histSST","histpiSST","histSST-1950HC","histSST-piAer","histSST-piCH4","histSST-piO3","histSST-piNOx","histSST-piVOC"],"paddingInner":0.62,"paddingOuter":0.4},"axis":{"orient":"bottom","title":null}},"y":{"field":"v","type":"quantitative","scale":{"domain":[0,15],"nice":false},"axis":{"orient":"left","values":[0,1,2,3,4,5,6,7,8,9,10,11,12,13,14,15],"offset":-2,"tickSize":{"condition":{"test":"datum.value%5===0","value":5},"value":3},"labels":false,"grid":true,"gridOpacity":{"condition":{"test":"datum.value===5||datum.value===10","value":1},"value":0},"title":null}},"color":{"field":"s","type":"nominal","scale":{"domain":["histSST","histpiSST","histSST-1950HC","histSST-piAer","histSST-piCH4","histSST-piO3","histSST-piNOx","histSST-piVOC"],"range":["#00008B","#1E90FF","#800080","#FF8C00","#8B0000","#006400","#00FFFF","#90EE90"]},"legend":null}}},
{"mark":{"type":"bar","opacity":0},"encoding":{"x":{"field":"s","type":"nominal","scale":{"domain":["histSST","histpiSST","histSST-1950HC","histSST-piAer","histSST-piCH4","histSST-piO3","histSST-piNOx","histSST-piVOC"],"paddingInner":0.62,"paddingOuter":0.4},"axis":{"orient":"top","title":null}},"y":{"field":"v","type":"quantitative","scale":{"domain":[0,15],"nice":false},"axis":{"orient":"right","values":[0,1,2,3,4,5,6,7,8,9,10,11,12,13,14,15],"offset":-2,"tickSize":{"condition":{"test":"datum.value%5===0","value":5},"value":3},"labels":false,"grid":false,"title":null}}}}
],"resolve":{"axis":{"x":"independent","y":"independent"}}},
{"width":60,"height":70,"title":"Global","transform":[{"filter":"datum.r==='GLB'"}],"layer":[
{"mark":"bar","encoding":{"x":{"field":"s","type":"nominal","scale":{"domain":["histSST","histpiSST","histSST-1950HC","histSST-piAer","histSST-piCH4","histSST-piO3","histSST-piNOx","histSST-piVOC"],"paddingInner":0.62,"paddingOuter":0.4},"axis":{"orient":"bottom","title":null}},"y":{"field":"v","type":"quantitative","scale":{"domain":[0,15],"nice":false},"axis":{"orient":"left","values":[0,1,2,3,4,5,6,7,8,9,10,11,12,13,14,15],"offset":-2,"tickSize":{"condition":{"test":"datum.value%5===0","value":5},"value":3},"labels":false,"grid":true,"gridOpacity":{"condition":{"test":"datum.value===5||datum.value===10","value":1},"value":0},"title":null}},"color":{"field":"s","type":"nominal","scale":{"domain":["histSST","histpiSST","histSST-1950HC","histSST-piAer","histSST-piCH4","histSST-piO3","histSST-piNOx","histSST-piVOC"],"range":["#00008B","#1E90FF","#800080","#FF8C00","#8B0000","#006400","#00FFFF","#90EE90"]},"legend":null}}},
{"mark":{"type":"bar","opacity":0},"encoding":{"x":{"field":"s","type":"nominal","scale":{"domain":["histSST","histpiSST","histSST-1950HC","histSST-piAer","histSST-piCH4","histSST-piO3","histSST-piNOx","histSST-piVOC"],"paddingInner":0.62,"paddingOuter":0.4},"axis":{"orient":"top","title":null}},"y":{"field":"v","type":"quantitative","scale":{"domain":[0,15],"nice":false},"axis":{"orient":"right","values":[0,1,2,3,4,5,6,7,8,9,10,11,12,13,14,15],"offset":-2,"tickSize":{"condition":{"test":"datum.value%5===0","value":5},"value":3},"labelExpr":"datum.value%5===0?datum.label:''","labelOverlap":false,"labelPadding":2,"grid":false,"title":"Attributable Fraction (%)","titleAngle":-90,"titlePadding":5}}}}
],"resolve":{"axis":{"x":"independent","y":"independent"}}},
{"width":60,"height":70,"view":{"stroke":null},"transform":[{"filter":"false"}],"mark":"bar","encoding":{"color":{"field":"s","type":"nominal","scale":{"domain":["histSST","histpiSST","histSST-1950HC","histSST-piAer","histSST-piCH4","histSST-piO3","histSST-piNOx","histSST-piVOC"],"range":["#00008B","#1E90FF","#800080","#FF8C00","#8B0000","#006400","#00FFFF","#90EE90"]},"legend":{"orient":"none","legendX":27,"legendY":-2,"title":null,"symbolType":"square","symbolSize":54,"symbolStrokeWidth":0,"symbolOpacity":1,"labelFontSize":5.3,"labelColor":"black","rowPadding":1.9,"labelOffset":5,"padding":0}}}}
],
"config":{
"font":"DejaVu Sans",
"view":{"stroke":"black","strokeWidth":1},
"title":{"fontSize":6.7,"fontWeight":"normal","color":"black","offset":2.1,"frame":"group","lineHeight":8.5,"font":"DejaVu Sans"},
"axisX":{"labels":false,"ticks":false,"domainColor":"black","domainWidth":1.5,"grid":false},
"axisY":{"tickColor":"black","tickWidth":0.7,"labelFontSize":6,"labelColor":"black","labelFont":"DejaVu Sans","titleFont":"DejaVu Sans","titleFontSize":6.7,"titleFontWeight":"normal","titleColor":"black","gridColor":"#e6e6e6","gridWidth":0.7,"domain":false},
"legend":{"labelFont":"DejaVu Sans"}
}
}
